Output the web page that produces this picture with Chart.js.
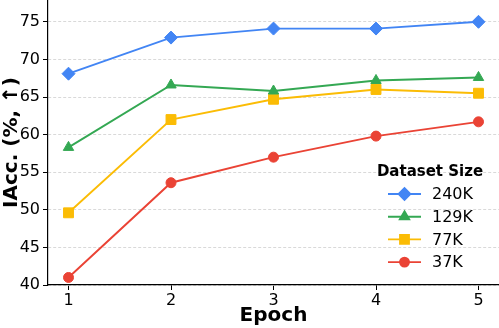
<!DOCTYPE html>
<html>
<head>
<meta charset="utf-8">
<script src="https://cdn.jsdelivr.net/npm/chart.js@4/dist/chart.umd.min.js"></script>
<style>
  html, body { margin: 0; padding: 0; background: #fff; }
  #wrap { width: 499px; height: 328px; }
</style>
</head>
<body>
<div id="wrap"><canvas id="myChart"></canvas></div>
<script>
let epochs = [1, 2, 3, 4, 5];
let yTicks = [40, 45, 50, 55, 60, 65, 70, 75];
let names = ['240K', '129K', '77K', '37K'];
let acc240 = [68.1, 72.9, 74.1, 74.1, 75.0];
let acc129 = [58.3, 66.6, 65.8, 67.2, 67.6];
let acc77 = [49.6, 62.0, 64.7, 66.0, 65.5];
let acc37 = [41.0, 53.6, 57.0, 59.8, 61.7];

let colors = ['#4285F4', '#34A853', '#FBBC05', '#EA4335'];
let styles = ['rectRot', 'triangle', 'rect', 'circle'];
let radii = [6.5, 6, 7, 5];
let series = [acc240, acc129, acc77, acc37];

function pts(vals) {
    return epochs.map((e, i) => ({x: e, y: vals[i]}));
}

let datasets = series.map((s, i) => ({
    label: names[i],
    data: pts(s),
    borderColor: colors[i],
    backgroundColor: colors[i],
    pointStyle: styles[i],
    pointRadius: radii[i],
    pointBorderWidth: 1,
    borderWidth: 1.9,
    tension: 0,
    clip: false
}));

// legend drawn by hand inside the plot (lower right)
let legendBox = {
    id: 'legendBox',
    afterDraw(chart) {
        let ctx = chart.ctx;
        ctx.save();
        ctx.fillStyle = '#000';
        ctx.font = 'bold 15px "DejaVu Sans"';
        ctx.textAlign = 'center';
        ctx.textBaseline = 'middle';
        ctx.fillText('Dataset Size', 430, 172);
        ctx.font = '16px "DejaVu Sans"';
        ctx.textAlign = 'left';
        chart.data.datasets.forEach((ds, i) => {
            let y = 194 + i * 22.7;
            ctx.strokeStyle = ds.borderColor;
            ctx.fillStyle = ds.borderColor;
            ctx.lineWidth = 1.9;
            ctx.beginPath();
            ctx.moveTo(388, y);
            ctx.lineTo(421, y);
            ctx.stroke();
            Chart.helpers.drawPoint(ctx, {pointStyle: ds.pointStyle, radius: ds.pointRadius * 0.9, rotation: 0, borderWidth: 1}, 404.5, y);
            ctx.fillStyle = '#000';
            ctx.fillText(ds.label, 432, y + 1);
        });
        ctx.restore();
    }
};

let ctx = document.getElementById('myChart').getContext('2d');
let myChart = new Chart(ctx, {
    type: 'line',
    data: { datasets: datasets },
    options: {
        responsive: true,
        maintainAspectRatio: false,
        animation: false,
        layout: { autoPadding: false, padding: 0 },
        plugins: {
            legend: { display: false },
            tooltip: { enabled: false }
        },
        scales: {
            x: {
                type: 'linear',
                min: 0.8,
                max: 5.2,
                afterBuildTicks: (s) => { s.ticks = epochs.map(v => ({value: v})); },
                afterFit: (s) => { s.height = 43; s.paddingLeft = 0; s.paddingRight = 0; },
                grid: { drawOnChartArea: false, tickLength: 5, tickColor: '#000' },
                border: { color: '#000', width: 1.2 },
                ticks: { color: '#000', font: {family: 'DejaVu Sans', size: 16}, padding: 1 },
                title: {
                    display: true,
                    text: 'Epoch',
                    color: '#000',
                    font: {family: 'DejaVu Sans', size: 20, weight: 'bold'},
                    padding: {top: 0, bottom: 0}
                }
            },
            y: {
                min: 40,
                max: 77.9,
                afterBuildTicks: (s) => { s.ticks = yTicks.map(v => ({value: v})); },
                afterFit: (s) => { s.width = 48; s.paddingTop = 0; s.paddingBottom = 0; },
                grid: { color: '#d9d9d9', tickLength: 5, tickColor: '#000', tickBorderDash: [] },
                border: { color: '#000', width: 1.2, dash: [3, 2] },
                ticks: { color: '#000', font: {family: 'DejaVu Sans', size: 16}, padding: 3 },
                title: {
                    display: true,
                    text: 'IAcc. (%, ↑)',
                    color: '#000',
                    font: {family: 'DejaVu Sans', size: 20, weight: 'bold'},
                    padding: {top: 0, bottom: 0}
                }
            }
        }
    },
    plugins: [legendBox]
});
</script>
</body>
</html>
